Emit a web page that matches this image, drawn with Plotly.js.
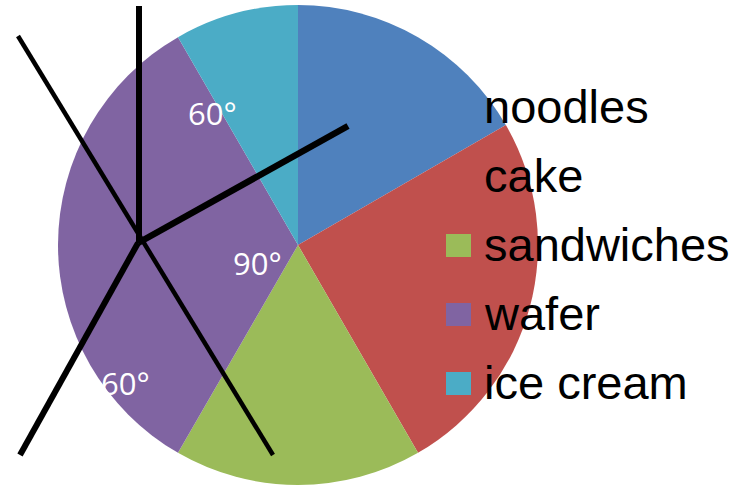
<!DOCTYPE html>
<html>
<head>
<meta charset="utf-8">
<script src="https://cdn.plot.ly/plotly-3.0.1.min.js"></script>
<style>html,body{margin:0;padding:0;background:#fff;} #chart{width:749px;height:487px;}</style>
</head>
<body>
<div id="chart"></div>
<script>
// ---- data ----
const categories = ["noodles", "cake", "sandwiches", "wafer", "ice cream"];
const angles = [60, 90, 60, 120, 30];
const colors = ["#4F81BD", "#C0504D", "#9BBB59", "#8064A2", "#4BACC6"];
const angleLabels = ["60°", "90°", "60°"];

// ---- helpers (pixel -> paper) ----
const W = 749, H = 487;
const px = x => x / W;
const py = y => 1 - y / H;

const trace = {
  type: "pie",
  labels: categories,
  values: angles,
  marker: { colors: colors, line: { width: 0 } },
  sort: false,
  direction: "clockwise",
  rotation: 0,
  textinfo: "none",
  hoverinfo: "none",
  showlegend: false,
  domain: { x: [px(58), px(538)], y: [py(485), py(5)] }
};

const shapes = [];
const annotations = [];

// manual legend
const legendTop = 122, legendStep = 69;
categories.forEach((c, i) => {
  const base = legendTop + i * legendStep;
  const cy = base - 14.5;
  shapes.push({
    type: "rect", xref: "paper", yref: "paper",
    x0: px(446), x1: px(471), y0: py(cy + 11.5), y1: py(cy - 11.5),
    fillcolor: colors[i], line: { width: 0 }
  });
  annotations.push({
    xref: "paper", yref: "paper", x: px(482), y: py(base - 16),
    xanchor: "left", yanchor: "middle", showarrow: false,
    text: c, font: { family: "Liberation Sans, Arial, sans-serif", size: 47, color: "#000" }
  });
});

// angle labels
const labelPos = [[212, 113], [257, 263], [125, 383]];
angleLabels.forEach((t, i) => {
  annotations.push({
    xref: "paper", yref: "paper", x: px(labelPos[i][0]), y: py(labelPos[i][1]),
    xanchor: "center", yanchor: "middle", showarrow: false,
    text: t, font: { family: "Open Sans, sans-serif", size: 31, color: "#fff" }
  });
});

// black overlay lines
const lines = [
  [139, 6, 139, 243, 6],
  [18, 36, 273, 455, 4.5],
  [20, 455, 138, 243, 6],
  [138, 243, 348, 126, 6.5]
];
lines.forEach(l => {
  shapes.push({
    type: "line", xref: "paper", yref: "paper",
    x0: px(l[0]), y0: py(l[1]), x1: px(l[2]), y1: py(l[3]),
    line: { color: "#000", width: l[4] }
  });
});

const layout = {
  width: W, height: H,
  margin: { l: 0, r: 0, t: 0, b: 0, pad: 0 },
  paper_bgcolor: "#fff",
  showlegend: false,
  shapes: shapes,
  annotations: annotations
};

Plotly.newPlot("chart", [trace], layout, { displayModeBar: false, staticPlot: true });
</script>
</body>
</html>
